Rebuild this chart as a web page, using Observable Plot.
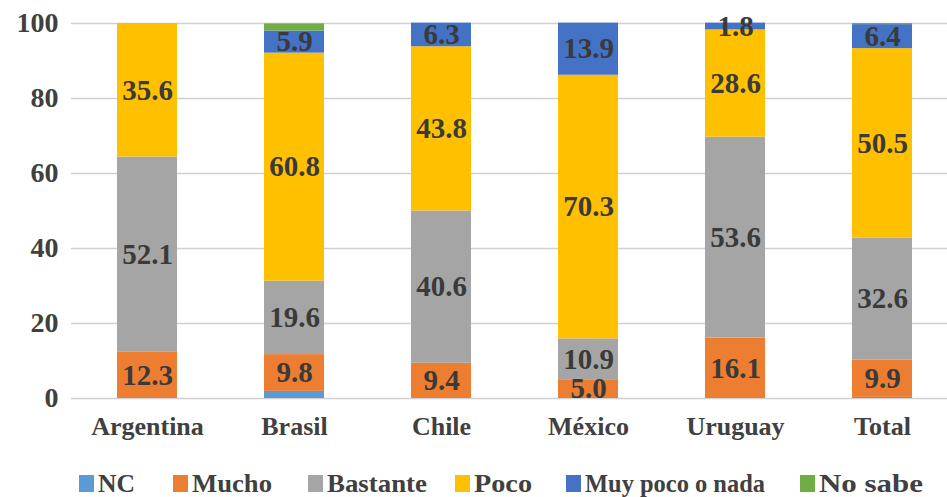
<!DOCTYPE html>
<html>
<head>
<meta charset="utf-8">
<script src="https://cdn.jsdelivr.net/npm/d3@7"></script>
<script src="https://cdn.jsdelivr.net/npm/@observablehq/plot@0.6"></script>
<style>
  body { margin: 0; background: #fff; }
  #chart { width: 947px; height: 497px; overflow: hidden; font-family: "Liberation Serif", "Times New Roman", serif; }
  #chart svg { display: block; }
</style>
</head>
<body>
<div id="chart"></div>
<script>
const countries = ["Argentina", "Brasil", "Chile", "México", "Uruguay", "Total"];
const seriesNames = ["NC", "Mucho", "Bastante", "Poco", "Muy poco o nada", "No sabe"];
const seriesColors = ["#5B9BD5", "#ED7D31", "#A5A5A5", "#FFC000", "#4472C4", "#70AD47"];
const nc        = [0,    1.9,  0,    0,    0,    0.3];
const mucho     = [12.3, 9.8,  9.4,  5.0,  16.1, 9.9];
const bastante  = [52.1, 19.6, 40.6, 10.9, 53.6, 32.6];
const poco      = [35.6, 60.8, 43.8, 70.3, 28.6, 50.5];
const muyPoco   = [0,    5.9,  6.3,  13.9, 1.8,  6.4];
const noSabe    = [0,    1.9,  0,    0,    0,    0.3];
const yTicks = [0, 20, 40, 60, 80, 100];
const labeled = ["Mucho", "Bastante", "Poco", "Muy poco o nada"];

const seriesValues = [nc, mucho, bastante, poco, muyPoco, noSabe];
const data = [];
countries.forEach((c, i) => {
  seriesNames.forEach((s, j) => {
    data.push({country: c, series: s, value: seriesValues[j][i]});
  });
});

const font = "'Liberation Serif', 'Times New Roman', serif";

const plot = Plot.plot({
  width: 947,
  height: 452,
  marginTop: 23,
  marginBottom: 54,
  marginLeft: 71,
  marginRight: 0,
  style: {fontFamily: font, fontWeight: "bold", color: "#404040", background: "#fff", overflow: "visible"},
  x: {domain: countries, range: [71, 958], paddingInner: 0.594, paddingOuter: 0.297, label: null},
  y: {domain: [0, 100], label: null},
  color: {domain: seriesNames, range: seriesColors},
  marks: [
    Plot.ruleY(yTicks, {stroke: "#D0D0D0", strokeWidth: 1.5}),
    Plot.barY(data, Plot.stackY({x: "country", y: "value", fill: "series", z: "series", order: seriesNames})),
    Plot.text(data, Plot.stackY({
      x: "country", y: "value", z: "series", order: seriesNames,
      text: d => (labeled.includes(d.series) && d.value >= 1) ? d.value.toFixed(1) : "",
      fill: "#3a3a3a", fontSize: 29, fontWeight: "bold", fontFamily: font
    })),
    Plot.axisX({tickSize: 0, tickPadding: 18, fontSize: 26, fontWeight: "bold", fill: "#404040", label: null}),
    Plot.axisY({ticks: yTicks, tickSize: 0, tickPadding: 13, fontSize: 28, fontWeight: "bold", fill: "#404040", label: null, tickFormat: d => String(d)})
  ]
});

const chart = document.getElementById("chart");
chart.appendChild(plot);

// Legend below the plot
const legendX = [79, 173, 308, 455, 566, 800];
const legendTextW = [37, 80, 100, 58, 180, 104];
const lg = d3.create("svg").attr("width", 947).attr("height", 45)
  .style("font-family", font).style("font-weight", "bold");
seriesNames.forEach((s, i) => {
  lg.append("rect").attr("x", legendX[i]).attr("y", 23).attr("width", 15).attr("height", 17)
    .attr("fill", seriesColors[i]);
  lg.append("text").attr("x", legendX[i] + 19).attr("y", 40)
    .attr("font-size", 25).attr("fill", "#404040")
    .attr("textLength", legendTextW[i]).attr("lengthAdjust", "spacingAndGlyphs")
    .text(s);
});
chart.appendChild(lg.node());
</script>
</body>
</html>
